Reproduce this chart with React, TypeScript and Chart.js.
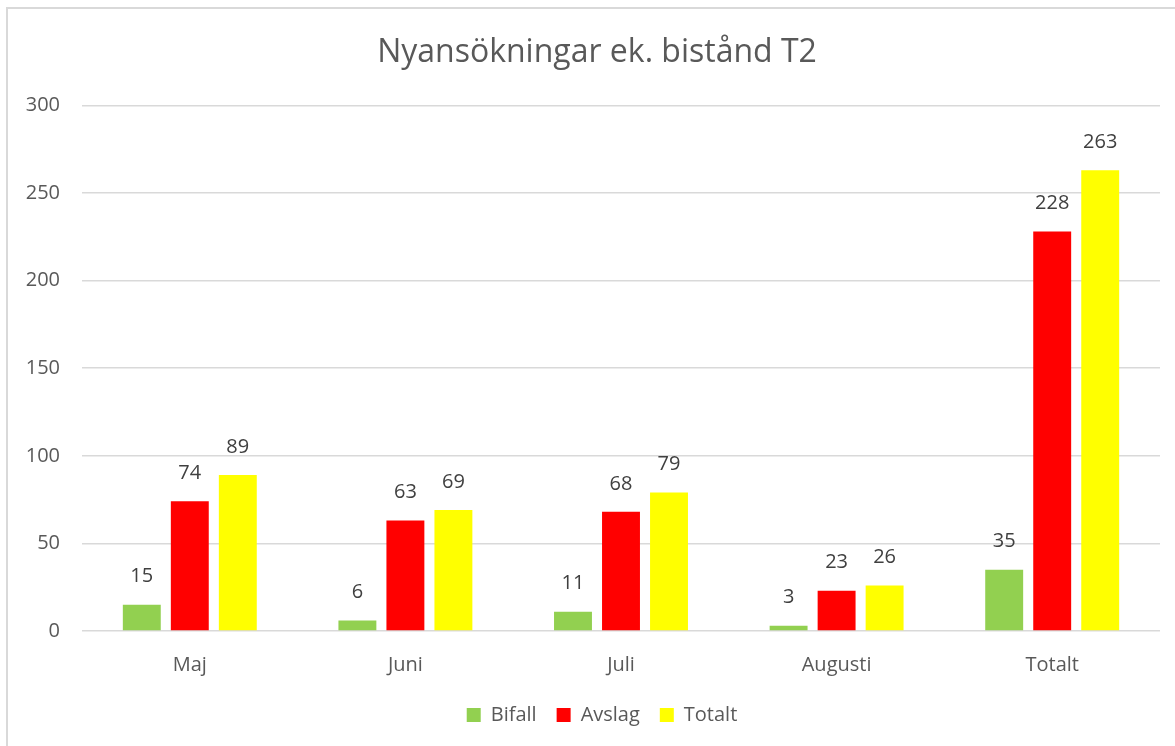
import React, { useEffect, useRef } from "react";
import { Chart, registerables } from "chart.js";

Chart.register(...registerables);

const categories = ["Maj", "Juni", "Juli", "Augusti", "Totalt"];
const bifall = [15, 6, 11, 3, 35];
const avslag = [74, 63, 68, 23, 228];
const totalt = [89, 69, 79, 26, 263];
const yTicks = [0, 50, 100, 150, 200, 250, 300];

const FONT = "'Open Sans', 'Noto Sans', sans-serif";
const TEXT = "#595959";

const dataLabels = {
  id: "dataLabels",
  afterDatasetsDraw(chart: any) {
    const ctx = chart.ctx;
    ctx.save();
    ctx.font = `20px ${FONT}`;
    ctx.fillStyle = "#404040";
    ctx.textAlign = "center";
    ctx.textBaseline = "middle";
    chart.data.datasets.forEach((ds: any, i: number) => {
      const meta = chart.getDatasetMeta(i);
      meta.data.forEach((bar: any, j: number) => {
        ctx.fillText(String(ds.data[j]), bar.x, bar.y - 28);
      });
    });
    ctx.restore();
  },
};

const shiftBoxes = {
  id: "shiftBoxes",
  afterLayout(chart: any) {
    const t = chart.titleBlock;
    if (t) {
      t.left += 17;
      t.right += 17;
      t.top += 3;
      t.bottom += 3;
    }
    const l = chart.legend;
    if (l) {
      l.left += 22;
      l.right += 22;
      l.top -= 6;
      l.bottom -= 6;
    }
  },
};

export default function App() {
  const ref = useRef<HTMLCanvasElement>(null);
  useEffect(() => {
    const chart = new Chart(ref.current!, {
      type: "bar",
      data: {
        labels: categories,
        datasets: [
          { label: "Bifall", data: bifall, backgroundColor: "#92D050" },
          { label: "Avslag", data: avslag, backgroundColor: "#FF0000" },
          { label: "Totalt", data: totalt, backgroundColor: "#FFFF00" },
        ],
      },
      options: {
        animation: false,
        responsive: false,
        maintainAspectRatio: false,
        datasets: {
          bar: { categoryPercentage: 0.668, barPercentage: 0.79 },
        },
        layout: { padding: { left: 0, right: 15, top: 0, bottom: 5 } },
        plugins: {
          title: {
            display: true,
            text: "Nyansökningar ek. bistånd T2",
            color: TEXT,
            font: { family: FONT, size: 32, weight: "normal" },
            padding: { top: 31, bottom: 36 },
          },
          legend: {
            position: "bottom",
            labels: {
              color: TEXT,
              font: { family: FONT, size: 20 },
              boxWidth: 14,
              boxHeight: 14,
              padding: 20,
            },
          },
          tooltip: { enabled: false },
        },
        scales: {
          x: {
            grid: { display: false },
            border: { display: false },
            ticks: {
              color: TEXT,
              font: { family: FONT, size: 20 },
              padding: 14,
            },
          },
          y: {
            min: 0,
            max: 300,
            afterFit: (s: any) => {
              s.width = 82;
            },
            afterBuildTicks: (s: any) => {
              s.ticks = yTicks.map((v) => ({ value: v }));
            },
            grid: { color: "#d9d9d9", lineWidth: 1.5, drawTicks: false },
            border: { display: false },
            ticks: {
              color: TEXT,
              font: { family: FONT, size: 20 },
              padding: 22,
            },
          },
        },
      },
      plugins: [dataLabels, shiftBoxes],
    } as any);
    return () => chart.destroy();
  }, []);
  return (
    <div style={{ position: "absolute", left: 0, top: 0, width: 1175, height: 746, background: "#fff" }}>
      <div
        style={{
          position: "absolute",
          left: 6,
          top: 7,
          width: 1180,
          height: 760,
          border: "2px solid #d9d9d9",
        }}
      />
      <canvas ref={ref} width={1175} height={746} style={{ position: "absolute", left: 0, top: 0 }} />
    </div>
  );
}
